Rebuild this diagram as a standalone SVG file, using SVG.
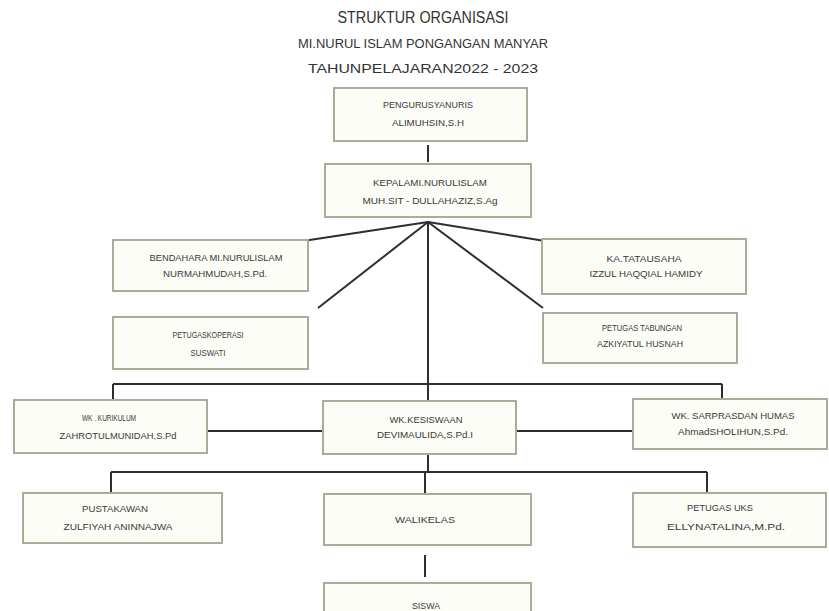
<svg xmlns="http://www.w3.org/2000/svg" width="829" height="611" viewBox="0 0 829 611">
<style>
.box{fill:#fcfdf7;stroke:#a7ad98;stroke-width:2}
.t{font-family:"Liberation Sans",Arial,sans-serif;font-size:9px;fill:#3a3a3a;text-anchor:middle}
.h{font-family:"Liberation Sans",Arial,sans-serif;fill:#333;text-anchor:middle}
.c{stroke:#2e2e2e;stroke-width:2;fill:none}
</style>
<rect width="829" height="611" fill="#ffffff"/>
<g id="title">
<text class="h" x="423" y="23" font-size="16" textLength="171" lengthAdjust="spacingAndGlyphs">STRUKTUR ORGANISASI</text>
<text class="h" x="423" y="48" font-size="12" textLength="250" lengthAdjust="spacingAndGlyphs">MI.NURUL ISLAM PONGANGAN MANYAR</text>
<text class="h" x="423" y="73" font-size="13" textLength="230" lengthAdjust="spacingAndGlyphs">TAHUNPELAJARAN2022 -  2023</text>
</g>
<g id="connectors">
<line class="c" x1="428" y1="145" x2="428" y2="162"/>
<line class="c" x1="428" y1="222" x2="303" y2="241"/>
<line class="c" x1="428" y1="222" x2="545" y2="241"/>
<line class="c" x1="428" y1="222" x2="318" y2="308"/>
<line class="c" x1="428" y1="222" x2="543" y2="308"/>
<line class="c" x1="428" y1="222" x2="428" y2="401"/>
<line class="c" x1="113" y1="384" x2="722" y2="384"/>
<line class="c" x1="113" y1="384" x2="113" y2="400"/>
<line class="c" x1="722" y1="384" x2="722" y2="399"/>
<line class="c" x1="207" y1="431" x2="323" y2="431"/>
<line class="c" x1="516" y1="431" x2="633" y2="431"/>
<line class="c" x1="428" y1="454" x2="428" y2="472"/>
<line class="c" x1="111" y1="472" x2="707" y2="472"/>
<line class="c" x1="111" y1="472" x2="111" y2="493"/>
<line class="c" x1="425" y1="472" x2="425" y2="494"/>
<line class="c" x1="707" y1="472" x2="707" y2="493"/>
<line class="c" x1="425" y1="555" x2="425" y2="577"/>
</g>
<g id="pengurus">
<rect class="box" x="334" y="88" width="193" height="53"/>
<text class="t" x="428" y="108" textLength="90" lengthAdjust="spacingAndGlyphs">PENGURUSYANURIS</text>
<text class="t" x="428" y="126" textLength="72" lengthAdjust="spacingAndGlyphs">ALIMUHSIN,S.H</text>
</g>
<g id="kepala">
<rect class="box" x="325" y="164" width="206" height="53"/>
<text class="t" x="430" y="186" textLength="114" lengthAdjust="spacingAndGlyphs">KEPALAMI.NURULISLAM</text>
<text class="t" x="430" y="204" textLength="135" lengthAdjust="spacingAndGlyphs">MUH.SIT - DULLAHAZIZ,S.Ag</text>
</g>
<g id="bendahara">
<rect class="box" x="113" y="240" width="195" height="51"/>
<text class="t" x="216" y="261" textLength="133" lengthAdjust="spacingAndGlyphs">BENDAHARA MI.NURULISLAM</text>
<text class="t" x="215" y="277" textLength="104" lengthAdjust="spacingAndGlyphs">NURMAHMUDAH,S.Pd.</text>
</g>
<g id="tatausaha">
<rect class="box" x="542" y="239" width="204" height="55"/>
<text class="t" x="644" y="262" textLength="75" lengthAdjust="spacingAndGlyphs">KA.TATAUSAHA</text>
<text class="t" x="646" y="277" textLength="113" lengthAdjust="spacingAndGlyphs">IZZUL HAQQIAL HAMIDY</text>
</g>
<g id="koperasi">
<rect class="box" x="113" y="317" width="195" height="52"/>
<text class="t" x="208" y="338" textLength="71" lengthAdjust="spacingAndGlyphs">PETUGASKOPERASI</text>
<text class="t" x="208" y="356" textLength="35" lengthAdjust="spacingAndGlyphs">SUSWATI</text>
</g>
<g id="tabungan">
<rect class="box" x="543" y="313" width="194" height="50"/>
<text class="t" x="642" y="331" textLength="80" lengthAdjust="spacingAndGlyphs">PETUGAS TABUNGAN</text>
<text class="t" x="640" y="347" textLength="86" lengthAdjust="spacingAndGlyphs">AZKIYATUL HUSNAH</text>
</g>
<g id="kurikulum">
<rect class="box" x="14" y="400" width="193" height="53"/>
<text class="t" x="109" y="421" textLength="54" lengthAdjust="spacingAndGlyphs">WK . KURIKULUM</text>
<text class="t" x="118" y="439" textLength="117" lengthAdjust="spacingAndGlyphs">ZAHROTULMUNIDAH,S.Pd</text>
</g>
<g id="kesiswaan">
<rect class="box" x="323" y="401" width="193" height="53"/>
<text class="t" x="426" y="423" textLength="73" lengthAdjust="spacingAndGlyphs">WK.KESISWAAN</text>
<text class="t" x="425" y="438" textLength="96" lengthAdjust="spacingAndGlyphs">DEVIMAULIDA,S.Pd.I</text>
</g>
<g id="sarpras">
<rect class="box" x="633" y="399" width="194" height="50"/>
<text class="t" x="733" y="419" textLength="123" lengthAdjust="spacingAndGlyphs">WK. SARPRASDAN HUMAS</text>
<text class="t" x="733" y="435" textLength="110" lengthAdjust="spacingAndGlyphs">AhmadSHOLIHUN,S.Pd.</text>
</g>
<g id="pustakawan">
<rect class="box" x="23" y="493" width="199" height="50"/>
<text class="t" x="115" y="512" textLength="66" lengthAdjust="spacingAndGlyphs">PUSTAKAWAN</text>
<text class="t" x="118" y="530" textLength="109" lengthAdjust="spacingAndGlyphs">ZULFIYAH ANINNAJWA</text>
</g>
<g id="walikelas">
<rect class="box" x="324" y="494" width="207" height="51"/>
<text class="t" x="425" y="523" textLength="60" lengthAdjust="spacingAndGlyphs">WALIKELAS</text>
</g>
<g id="uks">
<rect class="box" x="633" y="493" width="193" height="54"/>
<text class="t" x="720" y="511" textLength="66" lengthAdjust="spacingAndGlyphs">PETUGAS UKS</text>
<text class="t" x="726" y="530" textLength="118" lengthAdjust="spacingAndGlyphs">ELLYNATALINA,M.Pd.</text>
</g>
<g id="siswa">
<rect class="box" x="324" y="583" width="207" height="40"/>
<text class="t" x="426" y="609" textLength="28" lengthAdjust="spacingAndGlyphs">SISWA</text>
</g>
</svg>
